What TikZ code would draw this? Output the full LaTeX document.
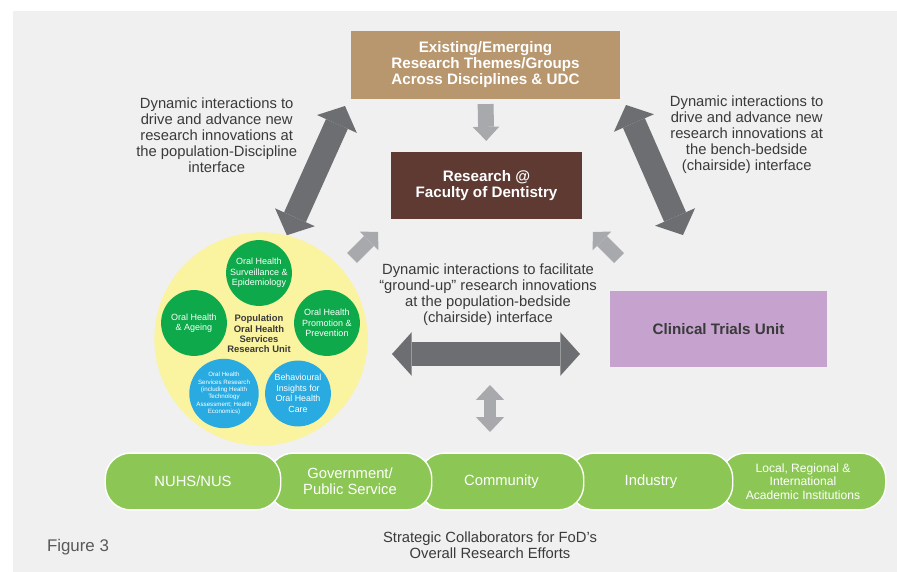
\documentclass[tikz,border=0pt]{standalone}
\usepackage{fontspec}
\setmainfont{Liberation Sans}
\usetikzlibrary{arrows.meta}

\definecolor{panel}{HTML}{F0F0F0}
\definecolor{themetan}{HTML}{B8966E}
\definecolor{fodbrown}{HTML}{5E3A33}
\definecolor{ctupurple}{HTML}{C5A3CE}
\definecolor{arrowdark}{HTML}{6D6E71}
\definecolor{arrowlight}{HTML}{A7A9AC}
\definecolor{unityellow}{HTML}{FAF3A0}
\definecolor{ohgreen}{HTML}{0DA94A}
\definecolor{ohblue}{HTML}{29ABE2}
\definecolor{pillgreen}{HTML}{8CC756}
\definecolor{textgray}{HTML}{3A3A3A}

\begin{document}
\begin{tikzpicture}[x=0.025cm,y=-0.025cm,
  boxtext/.style={font=\fontsize{10.8}{11.4}\selectfont\bfseries, align=center, inner sep=0pt},
  dyntext/.style={font=\fontsize{10.5}{11.4}\selectfont, text=textgray, align=center, inner sep=0pt},
  unitcircle/.style={circle, minimum size=46.8pt, inner sep=0pt, text=white, align=center,
    font=\fontsize{6.4}{7.5}\selectfont},
  pill/.style={draw=white, line width=1pt, fill=pillgreen, rounded corners=18pt,
    minimum height=40.4pt, text=white, align=center, font=\fontsize{10.5}{11.4}\selectfont},
  darkarrow/.style={draw=arrowdark, line width=17pt, {Triangle[length=14pt,width=31pt,line width=0pt]}-{Triangle[length=14pt,width=31pt,line width=0pt]}},
  lightarrow/.style={draw=arrowlight, line width=10pt, -{Triangle[length=9pt,width=19pt,line width=0pt]}}]

% page and panel
\useasboundingbox (0,0) rectangle (897,572);
\fill[white] (0,0) rectangle (897,572);
\fill[panel] (13,11) rectangle (897,572);

% boxes
\node[boxtext, fill=themetan, text=white, minimum width=192pt, minimum height=48.2pt] (themes) at (485.5,65)
  {Existing/Emerging\\Research Themes/Groups\\Across Disciplines \& UDC};
\node[boxtext, fill=fodbrown, text=white, minimum width=135.4pt, minimum height=47.5pt] (fod) at (486.5,185.5)
  {Research @\\Faculty of Dentistry};
\node[boxtext, fill=ctupurple, text=textgray, minimum width=153.9pt, minimum height=53.9pt] (ctu) at (718.5,329)
  {Clinical Trials Unit};

% population unit
\node[circle, fill=unityellow, minimum size=151.7pt, inner sep=0pt] (popunit) at (261,339) {};
\node[unitcircle, fill=ohgreen] (surv) at (259,273) {Oral Health\\Surveillance \&\\Epidemiology};
\node[unitcircle, fill=ohgreen] (ageing) at (194,323) {Oral Health\\\& Ageing};
\node[unitcircle, fill=ohgreen] (promo) at (327,323) {Oral Health\\Promotion \&\\Prevention};
\node[unitcircle, fill=ohblue, font=\fontsize{4.4}{5.2}\selectfont] (hsr) at (224,393.5)
  {Oral Health\\Services Research\\(including Health\\Technology\\Assessment; Health\\Economics)};
\node[unitcircle, fill=ohblue, font=\fontsize{6.3}{7.5}\selectfont] (behav) at (298,393.5)
  {Behavioural\\Insights for\\Oral Health\\Care};
\node[font=\fontsize{6.7}{7.4}\selectfont\bfseries, text=textgray, align=center, inner sep=0pt] (poplabel) at (259,334)
  {Population\\Oral Health\\Services\\Research Unit};

% texts
\node[dyntext] (txtleft) at (216.7,135)
  {Dynamic interactions to\\drive and advance new\\research innovations at\\the population-Discipline\\interface};
\node[dyntext] (txtright) at (746.7,135)
  {Dynamic interactions to\\drive and advance new\\research innovations at\\the bench-bedside\\(chairside) interface};
\node[dyntext] (txtmid) at (488,295)
  {Dynamic interactions to facilitate\\“ground-up” research innovations\\at the population-bedside\\(chairside) interface};

% arrow ends
\coordinate (dlt) at (345,106);
\coordinate (drt) at (626,105);
\coordinate (drb) at (683,235);
\coordinate (hl) at (392,354);
\coordinate (hr) at (580,354);
\coordinate (vt) at (490,385);
\coordinate (vb) at (490,432);
\coordinate (sl) at (352,258);
\coordinate (slt) at (378,232);
\coordinate (sr) at (619,258);
\coordinate (srt) at (593,232);

% arrows
\draw[draw=arrowlight, line width=11.3pt, -{Triangle[length=10pt,width=19pt,line width=0pt]},
  shorten <=3.5pt, shorten >=7.8pt] (themes.south) -- (fod.north);
\draw[darkarrow] (popunit.76) -- (dlt);
\draw[darkarrow] (drt) -- (drb);
\draw[darkarrow, line width=17.7pt] (hl) -- (hr);
\draw[draw=arrowlight, line width=9.2pt, {Triangle[length=10.6pt,width=20pt,line width=0pt]}-{Triangle[length=10.6pt,width=20pt,line width=0pt]}] (vt) -- (vb);
\draw[lightarrow] (sl) -- (slt);
\draw[lightarrow] (sr) -- (srt);

% strategic collaborators
\node[pill, minimum width=117.7pt, font=\fontsize{8.6}{9.4}\selectfont] (acad) at (803,481.5)
  {Local, Regional \&\\International\\Academic Institutions};
\node[pill, minimum width=116.3pt] (ind) at (651,481.5) {Industry};
\node[pill, minimum width=117pt] (comm) at (501.5,481.5) {Community};
\node[pill, minimum width=116.3pt] (govt) at (350,481.5) {Government/\\Public Service};
\node[pill, minimum width=124.8pt] (nuhs) at (193,481.5) {NUHS/NUS};

\node[dyntext, text=textgray] (caption) at (490,545)
  {Strategic Collaborators for FoD’s\\Overall Research Efforts};
\node[font=\fontsize{12}{13}\selectfont, text=black!65, inner sep=0pt] (figlabel) at (78,547) {Figure 3};
\end{tikzpicture}
\end{document}
